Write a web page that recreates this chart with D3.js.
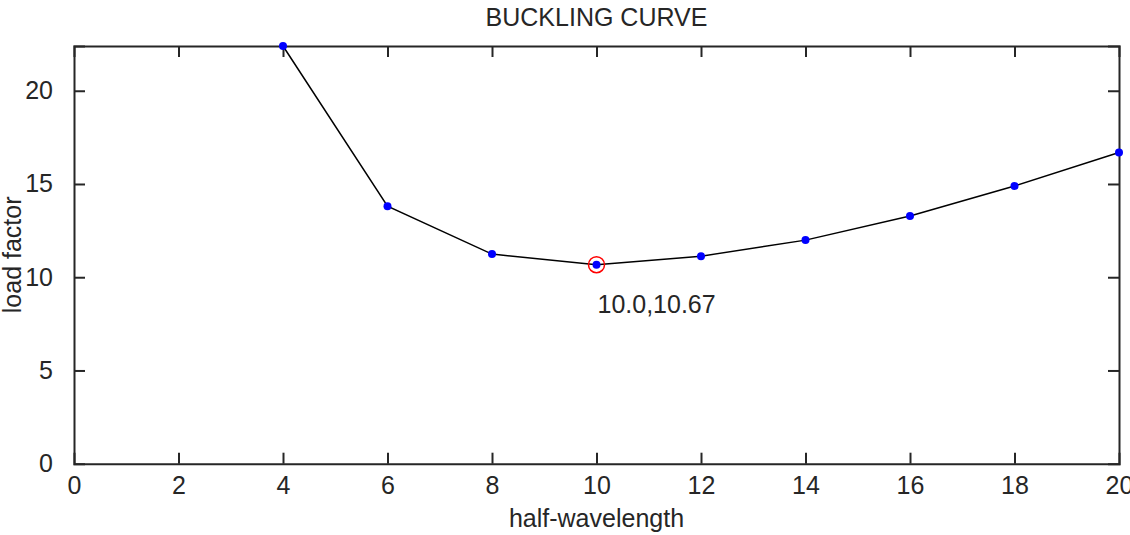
<!DOCTYPE html>
<html>
<head>
<meta charset="utf-8">
<script src="https://cdn.jsdelivr.net/npm/d3@7"></script>
<style>
  body { margin: 0; background: #fff; }
  svg { display: block; font-family: "Liberation Sans", Arial, sans-serif; }
</style>
</head>
<body>
<div id="chart"></div>
<script>
// half-wavelength vs load factor
const halfWave = [4, 6, 8, 10, 12, 14, 16, 18, 20];
const loadFactor = [22.4, 13.81, 11.24, 10.67, 11.13, 11.99, 13.28, 14.89, 16.69];
const xTicks = [0, 2, 4, 6, 8, 10, 12, 14, 16, 18, 20];
const yTicks = [0, 5, 10, 15, 20];
const minIndex = 3;
const minLabel = "10.0,10.67";

const width = 1130, height = 535;
const marginLeft = 74, marginRight = 11, marginTop = 46, marginBottom = 72;
const ink = "#262626";

const svg = d3.select("#chart").append("svg")
  .attr("width", width)
  .attr("height", height);

const x = d3.scaleLinear()
  .domain([0, 20])
  .range([marginLeft, width - marginRight]);

const y = d3.scaleLinear()
  .domain([0, d3.max(loadFactor)])
  .range([height - marginBottom + 0.7, marginTop]);

const tickLen = 11;

// bottom axis (ticks pointing inward)
const gx = svg.append("g")
  .attr("transform", `translate(0,${y(0)})`)
  .call(d3.axisBottom(x).tickValues(xTicks).tickSize(-tickLen).tickPadding(tickLen + 2).tickFormat(d3.format("d")));

// top axis
const gxTop = svg.append("g")
  .attr("transform", `translate(0,${y.range()[1]})`)
  .call(d3.axisTop(x).tickValues(xTicks).tickSize(-tickLen).tickFormat(""));

// left axis
const gy = svg.append("g")
  .attr("transform", `translate(${x(0)},0)`)
  .call(d3.axisLeft(y).tickValues(yTicks).tickSize(-tickLen).tickPadding(tickLen + 10).tickFormat(d3.format("d")));

// right axis
const gyRight = svg.append("g")
  .attr("transform", `translate(${x(20)},0)`)
  .call(d3.axisRight(y).tickValues(yTicks).tickSize(-tickLen).tickFormat(""));

[gx, gxTop, gy, gyRight].forEach(g => {
  g.select(".domain").attr("stroke", ink).attr("stroke-width", 2);
  g.selectAll(".tick line").attr("stroke", ink).attr("stroke-width", 2);
  g.selectAll(".tick text").attr("fill", ink).style("font-size", "25px");
});
// hide end ticks that sit on the frame
gx.selectAll(".tick line").filter(d => d === 0 || d === 20).remove();
gxTop.selectAll(".tick line").filter(d => d === 0 || d === 20).remove();
gy.selectAll(".tick line").filter(d => d === 0).remove();
gyRight.selectAll(".tick line").filter(d => d === 0).remove();

// the curve
const line = d3.line()
  .x((d, i) => x(halfWave[i]))
  .y(d => y(d));

svg.append("path")
  .datum(loadFactor)
  .attr("fill", "none")
  .attr("stroke", "#000")
  .attr("stroke-width", 1.5)
  .attr("d", line);

svg.selectAll("circle.pt")
  .data(loadFactor)
  .enter()
  .append("circle")
  .attr("class", "pt")
  .attr("cx", (d, i) => x(halfWave[i]))
  .attr("cy", d => y(d))
  .attr("r", 4)
  .attr("fill", "#0000ff");

// minimum marker and label
svg.append("circle")
  .attr("cx", x(halfWave[minIndex]))
  .attr("cy", y(loadFactor[minIndex]))
  .attr("r", 8)
  .attr("fill", "none")
  .attr("stroke", "#ff0000")
  .attr("stroke-width", 1.5);

svg.append("text")
  .attr("x", x(halfWave[minIndex]) + 1)
  .attr("y", y(loadFactor[minIndex]) + 48)
  .attr("fill", ink)
  .style("font-size", "25px")
  .text(minLabel);

// title and axis labels
const cx = (x.range()[0] + x.range()[1]) / 2;
svg.append("text")
  .attr("x", cx)
  .attr("y", 26)
  .attr("text-anchor", "middle")
  .attr("fill", ink)
  .style("font-size", "25px")
  .text("BUCKLING CURVE");

svg.append("text")
  .attr("x", cx)
  .attr("y", 527)
  .attr("text-anchor", "middle")
  .attr("fill", ink)
  .style("font-size", "25px")
  .text("half-wavelength");

svg.append("text")
  .attr("transform", `translate(21,${(y.range()[0] + y.range()[1]) / 2}) rotate(-90)`)
  .attr("text-anchor", "middle")
  .attr("fill", ink)
  .style("font-size", "25px")
  .text("load factor");
</script>
</body>
</html>
